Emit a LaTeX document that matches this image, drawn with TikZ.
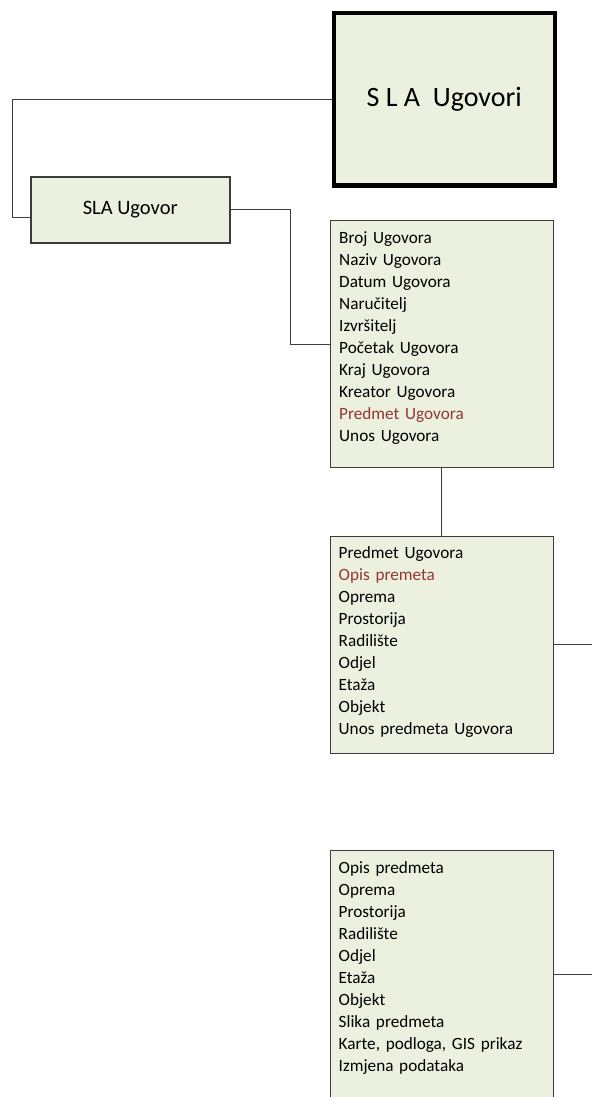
\documentclass[tikz,border=0pt]{standalone}
\usepackage{fontspec}
\setmainfont{Carlito}
\usetikzlibrary{positioning}
\definecolor{boxfill}{HTML}{EBF1DE}
\definecolor{boxline}{HTML}{3C3C3C}
\definecolor{hilite}{HTML}{943634}
\begin{document}
\begin{tikzpicture}[x=1pt,y=-1pt,
  conn/.style={draw=boxline,line width=1pt},
  panel/.style={draw=boxline,fill=boxfill,line width=1.3pt,inner sep=0pt,anchor=north west},
  listtext/.style={anchor=base west,inner sep=0pt,text width=205pt,align=left,
    font=\fontsize{17.2}{22}\selectfont}]
\useasboundingbox (0,0) rectangle (592,1097);

% root box
\node[panel,draw=black,line width=4.5pt,minimum width=221pt,minimum height=172pt,
  font=\fontsize{28}{34}\selectfont] (ugovori) at (331.5,11) {S L A\ \ Ugovori};

% single contract
\node[panel,line width=1.5pt,minimum width=199pt,minimum height=66pt,
  font=\fontsize{20.5}{24}\selectfont] (slaugovor) at (30,176) {SLA Ugovor};

% contract fields
\node[panel,minimum width=222.5pt,minimum height=247pt] (ugovor) at (330,220) {};
\node[listtext] (ugovorlist) at (339,243.3) {Broj Ugovora\\Naziv Ugovora\\Datum Ugovora\\Naručitelj\\Izvršitelj\\Početak Ugovora\\Kraj Ugovora\\Kreator Ugovora\\\textcolor{hilite}{Predmet Ugovora}\\Unos Ugovora};

% contract subject
\node[panel,minimum width=222.5pt,minimum height=217.5pt] (predmet) at (330,535.5) {};
\node[listtext] (predmetlist) at (338.5,558) {Predmet Ugovora\\\textcolor{hilite}{Opis premeta}\\Oprema\\Prostorija\\Radilište\\Odjel\\Etaža\\Objekt\\Unos predmeta Ugovora};

% subject description
\node[panel,minimum width=222.5pt,minimum height=248pt] (opis) at (330,850) {};
\node[listtext] (opislist) at (338.5,873) {Opis predmeta\\Oprema\\Prostorija\\Radilište\\Odjel\\Etaža\\Objekt\\Slika predmeta\\Karte, podloga, GIS prikaz\\Izmjena podataka};

% connectors
\draw[conn] (ugovori.west) -- ++(-319,0) |- ([yshift=-8pt]slaugovor.west);
\draw[conn] (slaugovor.east) -- ++(60,0) |- (ugovor.west);
\draw[conn] (ugovor.south) -- (predmet.north);
\coordinate (predmetout) at (592,0 |- predmet.east);
\draw[conn] (predmet.east) -- (predmetout);
\coordinate (opisout) at (592,0 |- opis.east);
\draw[conn] (opis.east) -- (opisout);
\end{tikzpicture}
\end{document}
